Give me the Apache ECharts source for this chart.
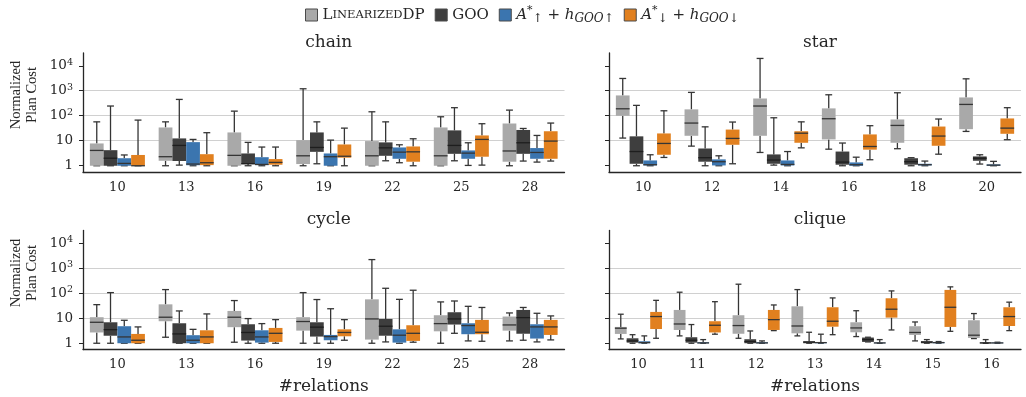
<!DOCTYPE html>
<html>
<head>
<meta charset="utf-8">
<script src="https://cdn.jsdelivr.net/npm/echarts@6/dist/echarts.min.js"></script>
<style>
  html, body { margin: 0; padding: 0; background: #fff; }
  #main { width: 1026px; height: 397px; }
</style>
</head>
<body>
<div id="main"></div>
<script>
// each box: [lower whisker, q1, median, q3, upper whisker]
var chainCats = ['10', '13', '16', '19', '22', '25', '28'];
var chainDP = [[1, 1, 4.1, 7.8, 57], [1, 1.58, 2.3, 34, 57], [1, 1, 2.6, 21.5, 153], [1, 1.17, 2.5, 10.6, 1200], [1, 1, 2.5, 9.7, 144], [1, 1, 2.5, 34, 91], [1, 1.45, 3.9, 49, 168]];
var chainGOO = [[1, 1, 2.0, 4.2, 245], [1.06, 1.55, 6.5, 12.4, 450], [1, 1.17, 1.2, 3.1, 8.6], [1.2, 3.6, 5.4, 21.5, 57], [1.58, 2.5, 5.2, 8.6, 57], [1.58, 3.0, 6.5, 26, 210], [1.54, 3.0, 8.3, 27, 31]];
var chainUp = [[1, 1, 1.24, 2.0, 2.7], [1, 1.05, 1.17, 8.8, 11.3], [1, 1.06, 1.13, 2.2, 5.6], [1, 1, 2.3, 3.1, 10.6], [1.32, 1.9, 3.5, 5.4, 6.9], [1.03, 1.9, 3.2, 4.1, 8.3], [1.4, 1.9, 3.4, 5.1, 16.3]];
var chainDown = [[1, 1, 1, 2.7, 67], [1, 1.06, 1.32, 2.9, 21], [1, 1.1, 1.36, 1.85, 5.6], [1, 2.1, 2.4, 7.1, 32], [1, 1.45, 3.6, 5.9, 12], [1.06, 2.3, 11.3, 16.3, 48], [1.54, 1.9, 9.7, 24, 51]];

var starCats = ['10', '12', '14', '16', '18', '20'];
var starDP = [[12.8, 100, 190, 650, 3100], [6.1, 15.8, 51, 180, 860], [3.4, 15.8, 245, 490, 19600], [4.6, 11.3, 76, 197, 690], [4.8, 8.3, 41, 71, 830], [23.6, 29, 284, 540, 3000]];
var starGOO = [[1, 1.2, 3.7, 15, 260], [1, 1.45, 2.1, 4.9, 36], [1.06, 1.2, 1.69, 2.84, 83], [1, 1.1, 1.4, 3.7, 8.1], [1, 1.1, 1.45, 2.0, 2.1], [1.17, 1.58, 2.0, 2.36, 2.75]];
var starUp = [[1, 1.03, 1.1, 1.63, 2.75], [1, 1.03, 1.45, 1.8, 2.5], [1, 1.03, 1.13, 1.63, 3.7], [1, 1, 1.1, 1.36, 2.2], [1, 1.03, 1.1, 1.2, 1.54], [1, 1, 1.06, 1.13, 1.5]];
var starDown = [[2.15, 2.75, 7.8, 19.6, 158], [1.2, 6.9, 12.4, 28, 56], [5.2, 8.3, 20, 24, 57], [1.74, 4.4, 5.9, 17.9, 40], [2.9, 6.3, 15.4, 37, 74], [11, 19, 32, 78, 210]];

var cycleCats = ['10', '13', '16', '19', '22', '25', '28'];
var cycleDP = [[1, 2.7, 6.9, 11, 35], [1.74, 7.6, 11, 36, 140], [1.1, 4.4, 11, 19.6, 51], [1, 3.2, 7.4, 11, 106], [1, 1.4, 9.4, 57, 2220], [1, 3.0, 6.1, 13.2, 45], [1.24, 3.2, 5.4, 11.7, 16.3]];
var cycleGOO = [[1, 2.0, 3.5, 6.9, 106], [1, 1, 2.36, 6.3, 19.6], [1, 1.28, 2.7, 5.75, 9.7], [1, 1.85, 4.4, 6.9, 56], [1.13, 2.0, 4.8, 9.4, 158], [2.5, 5.6, 9.4, 17.4, 49], [1.32, 2.4, 10.6, 21.5, 27]];
var cycleUp = [[1, 1, 1.79, 4.8, 8.3], [1, 1, 1.32, 2.1, 3.6], [1, 1.06, 1.79, 3.3, 6.1], [1, 1.32, 1.85, 2.15, 24], [1, 1.06, 2.1, 3.6, 57], [1.24, 2.3, 5.1, 6.3, 30], [1.13, 1.54, 4.5, 5.75, 15.8]];
var cycleDown = [[1, 1, 1.32, 2.36, 4.5], [1, 1, 1.79, 3.3, 14.9], [1, 1.13, 2.5, 4.1, 8.8], [1.32, 1.9, 2.7, 3.6, 8.8], [1.1, 1.24, 2.5, 5.25, 132], [1.2, 2.3, 2.75, 8.6, 27], [1.36, 2.15, 4.5, 8.6, 12.4]];

var cliqueCats = ['10', '11', '12', '13', '14', '15', '16'];
var cliqueDP = [[1.49, 2.36, 4.0, 4.5, 14.5], [1.97, 3.4, 5.9, 21.5, 110], [1.58, 2.4, 5.1, 13.2, 230], [1.97, 2.5, 4.9, 30, 140], [1.85, 2.75, 4.1, 6.9, 20], [1.24, 2.15, 2.7, 4.8, 7.1], [1.54, 1.63, 2.1, 8.3, 15.4]];
var cliqueGOO = [[1, 1.06, 1.24, 1.58, 2.2], [1, 1.06, 1.32, 1.74, 5.6], [1, 1, 1.17, 1.45, 3.1], [1, 1, 1.13, 1.17, 2.75], [1.13, 1.13, 1.4, 1.69, 1.74], [1, 1, 1.13, 1.17, 1.4], [1, 1, 1.03, 1.06, 1.4]];
var cliqueUp = [[1, 1, 1.06, 1.2, 1.97], [1, 1, 1.03, 1.1, 1.4], [1, 1, 1.03, 1.1, 1.24], [1, 1, 1.06, 1.1, 2.3], [1, 1, 1.03, 1.06, 1.4], [1, 1, 1.06, 1.13, 1.17], [1, 1, 1.03, 1.06, 1.1]];
var cliqueDown = [[1.58, 3.7, 11.7, 17.9, 52], [2.3, 2.7, 5.25, 7.6, 46], [3.2, 3.4, 8.8, 21.5, 34], [2.2, 4.6, 7.6, 27.5, 65], [3.4, 10.6, 23, 63, 124], [3.0, 4.5, 27.5, 136, 180], [3.2, 4.9, 11.7, 27.5, 44]];

var yTicks = [1, 10, 100, 1000, 10000];

var seriesNames = ['LinearizedDP', 'GOO', 'A*↑ + hGOO↑', 'A*↓ + hGOO↓'];
var seriesColors = ['#a9a9a9', '#3e3e3e', '#3b75af', '#e1801f'];

var panels = [
    { title: 'chain', cats: chainCats, sets: [chainDP, chainGOO, chainUp, chainDown] },
    { title: 'star', cats: starCats, sets: [starDP, starGOO, starUp, starDown] },
    { title: 'cycle', cats: cycleCats, sets: [cycleDP, cycleGOO, cycleUp, cycleDown] },
    { title: 'clique', cats: cliqueCats, sets: [cliqueDP, cliqueGOO, cliqueUp, cliqueDown] }
];

var serif = '"DejaVu Serif", serif';
var ink = '#262626';
var lineCol = '#353535';

// grid boxes (left, top, width, height)
var boxes = [
    [83, 53, 481.5, 119],
    [609, 53, 412, 119],
    [83, 230.5, 481.5, 119],
    [609, 230.5, 412, 119]
];

function boxRenderer(slot, color) {
    return function (params, api) {
        var x = api.value(0);
        var band = api.size([1, 1])[0];
        var w = band * 0.8 / 4;
        var cx = api.coord([x, 1])[0] + (slot - 1.5) * w;
        var yLo = api.coord([x, api.value(1)])[1];
        var yQ1 = api.coord([x, api.value(2)])[1];
        var yMed = api.coord([x, api.value(3)])[1];
        var yQ3 = api.coord([x, api.value(4)])[1];
        var yHi = api.coord([x, api.value(5)])[1];
        var cap = w * 0.25;
        var st = { stroke: lineCol, lineWidth: 1.3 };
        return {
            type: 'group',
            children: [
                { type: 'line', shape: { x1: cx, y1: yHi, x2: cx, y2: yQ3 }, style: st },
                { type: 'line', shape: { x1: cx, y1: yQ1, x2: cx, y2: yLo }, style: st },
                { type: 'line', shape: { x1: cx - cap, y1: yHi, x2: cx + cap, y2: yHi }, style: st },
                { type: 'line', shape: { x1: cx - cap, y1: yLo, x2: cx + cap, y2: yLo }, style: st },
                { type: 'rect', shape: { x: cx - w / 2, y: yQ3, width: w, height: Math.max(yQ1 - yQ3, 0.5) }, style: { fill: color } },
                { type: 'line', shape: { x1: cx - w / 2, y1: yMed, x2: cx + w / 2, y2: yMed }, style: { stroke: slot === 1 ? '#1e1e1e' : lineCol, lineWidth: 1.3 } }
            ]
        };
    };
}

var grids = [], xAxes = [], yAxes = [], series = [], titles = [];
panels.forEach(function (p, i) {
    var b = boxes[i];
    grids.push({ left: b[0], top: b[1], width: b[2], height: b[3] });
    titles.push({
        text: p.title, left: b[0] + b[2] / 2, top: b[1] - 24, textAlign: 'center',
        textStyle: { fontFamily: serif, fontWeight: 'normal', fontSize: 17, color: ink }
    });
    xAxes.push({
        type: 'category', gridIndex: i, data: p.cats,
        name: i >= 2 ? '#relations' : '', nameLocation: 'middle', nameGap: 29,
        nameTextStyle: { fontFamily: serif, fontSize: 17, color: ink },
        axisLine: { lineStyle: { color: ink, width: 1.3 } },
        axisTick: { alignWithLabel: true, length: 4, lineStyle: { color: ink, width: 1 } },
        axisLabel: { fontFamily: serif, fontSize: 13, color: ink, margin: 9 },
        splitLine: { show: false }
    });
    yAxes.push({
        type: 'log', gridIndex: i, logBase: 10, min: 0.5623, max: 32360,
        axisLine: { show: true, lineStyle: { color: ink, width: 1.3 } },
        axisTick: { show: true, length: 4, customValues: yTicks, lineStyle: { color: ink, width: 1 } },
        axisLabel: {
            show: i % 2 === 0, customValues: yTicks, fontFamily: serif, fontSize: 13.5, color: ink, margin: 10,
            formatter: function (v) {
                var e = Math.round(Math.log10(v));
                if (e === 0) return '1';
                if (e === 1) return '10';
                return '10{sup|' + e + '}';
            },
            rich: { sup: { fontFamily: serif, fontSize: 9.5, color: ink, verticalAlign: 'top', padding: [0, 0, 7, 0] } }
        },
        splitLine: { show: true, showMinLine: false, showMaxLine: false, lineStyle: { color: '#d0d0d0', width: 1.2 } }
    });
    p.sets.forEach(function (arr, k) {
        series.push({
            type: 'custom', name: seriesNames[k], xAxisIndex: i, yAxisIndex: i,
            renderItem: boxRenderer(k, seriesColors[k]),
            itemStyle: { color: seriesColors[k] },
            encode: { x: 0, y: [1, 2, 3, 4, 5] },
            data: arr.map(function (d, j) { return [j].concat(d); }),
            z: 5
        });
    });
});

var legendText = {
    'LinearizedDP': '{c|L}{s|INEARIZED}{c|DP}',
    'GOO': '{c|GOO}',
    'A*↑ + hGOO↑': '{i|A}{sup|*}{sub|↑}{c| + }{i|h}{sub|GOO↑}',
    'A*↓ + hGOO↓': '{i|A}{sup|*}{sub|↓}{c| + }{i|h}{sub|GOO↓}'
};

var yLabelStyle = {
    text: 'Normalized\nPlan Cost', fontFamily: '"Liberation Serif", serif', fontSize: 14.5,
    fill: ink, align: 'center', verticalAlign: 'middle', lineHeight: 16
};

var chart = echarts.init(document.getElementById('main'));
chart.setOption({
    backgroundColor: '#fff',
    animation: false,
    title: titles,
    grid: grids,
    xAxis: xAxes,
    yAxis: yAxes,
    legend: {
        left: 305, top: 5, padding: 0, itemWidth: 12, itemHeight: 12, itemGap: 10,
        data: seriesNames.map(function (n, k) {
            return { name: n, icon: 'rect', itemStyle: { color: seriesColors[k], borderColor: '#4a4a4a', borderWidth: 1 } };
        }),
        formatter: function (n) { return legendText[n]; },
        textStyle: {
            color: ink, fontFamily: serif, fontSize: 15, lineHeight: 20,
            rich: {
                c: { fontFamily: serif, fontSize: 15, color: ink },
                s: { fontFamily: serif, fontSize: 11.5, color: ink },
                i: { fontFamily: serif, fontStyle: 'italic', fontSize: 15, color: ink },
                sup: { fontFamily: serif, fontSize: 11, color: ink, verticalAlign: 'top' },
                sub: { fontFamily: serif, fontStyle: 'italic', fontSize: 12, color: ink, verticalAlign: 'bottom' }
            }
        }
    },
    graphic: [
        { type: 'text', x: 24, y: 95, rotation: Math.PI / 2, style: yLabelStyle },
        { type: 'text', x: 24, y: 273, rotation: Math.PI / 2, style: yLabelStyle }
    ],
    series: series
});
</script>
</body>
</html>
